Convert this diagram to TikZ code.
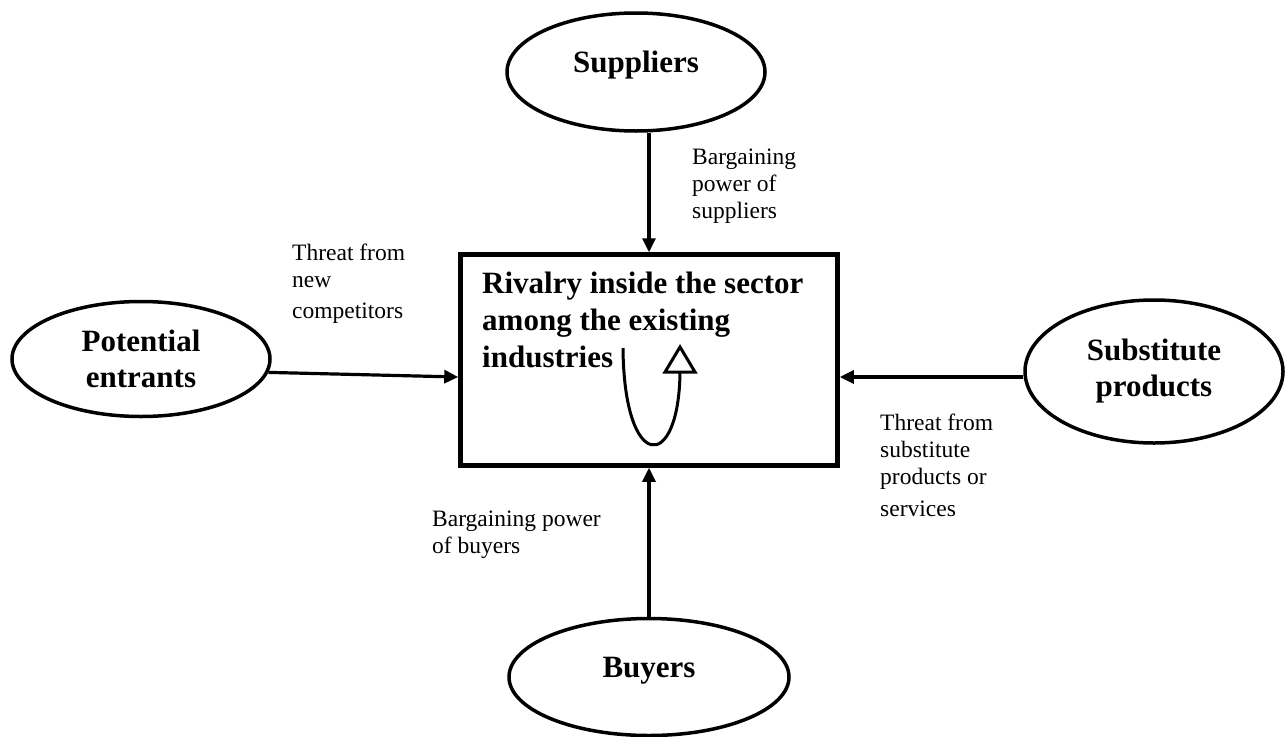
\documentclass[tikz,border=0pt]{standalone}
\usepackage{fontspec}
\setmainfont{Liberation Serif}
\usetikzlibrary{arrows.meta,shapes.geometric}
\begin{document}
\begin{tikzpicture}[x=1pt,y=-1pt,
  force/.style={draw, ellipse, line width=3.5pt, inner sep=0pt, align=center,
    font=\fontsize{31}{36}\selectfont\bfseries},
  conn/.style={line width=3.2pt, -{Triangle[length=14pt,width=13pt]}},
  lbl/.style={anchor=north west, inner sep=0pt, align=left,
    font=\fontsize{23.5}{27}\selectfont},
  loopline/.style={line width=3pt}]
\useasboundingbox (0,0) rectangle (1287,736);
% central box
\node[draw, line width=4.5pt, minimum width=377pt, minimum height=211pt, inner sep=0pt] (box) at (649,360) {};
\node[anchor=north west, inner sep=0pt, align=left, font=\fontsize{31}{37}\selectfont\bfseries] (rtext) at (482,271.5)
  {Rivalry inside the sector\\among the existing\\industries};
% forces
\node[force, minimum width=258pt, minimum height=118pt, text height=21pt, text depth=21pt] (sup) at (636,72) {Suppliers};
\node[force, minimum width=258pt, minimum height=115pt] (pot) at (141,359) {Potential\\entrants};
\node[force, minimum width=258pt, minimum height=143pt] (sub) at (1154,371.5) {Substitute\\products};
\node[force, minimum width=280pt, minimum height=117pt, text height=21pt, text depth=21pt] (buy) at (649,677) {Buyers};
% connector ends on the box
\coordinate (boxw) at ([yshift=-17pt]box.west);
\coordinate (boxe) at ([yshift=-17pt]box.east);
% connectors
\draw[conn] (sup.south -| box.north) -- (box.north);
\draw[conn] (buy.north) -- (box.south);
\draw[conn] (pot.-6) -- (boxw);
\draw[conn] (sub.west |- boxe) -- (boxe);
% labels
\node[lbl] (lsup) at (692,149) {Bargaining\\power of\\suppliers};
\node[lbl] (lnew) at (292,244) {Threat from\\new\\[4pt]competitors};
\node[lbl] (lsub) at (880,414) {Threat from\\substitute\\products or\\[5pt]services};
\node[lbl] (lbuy) at (432,511) {Bargaining power\\of buyers};
% rivalry loop
\draw[loopline] (623,348) .. controls (624,473) and (679,473) .. (680,372);
\draw[loopline, fill=white, line join=miter] (665,372) -- (680,347) -- (695,372) -- cycle;
\end{tikzpicture}
\end{document}
